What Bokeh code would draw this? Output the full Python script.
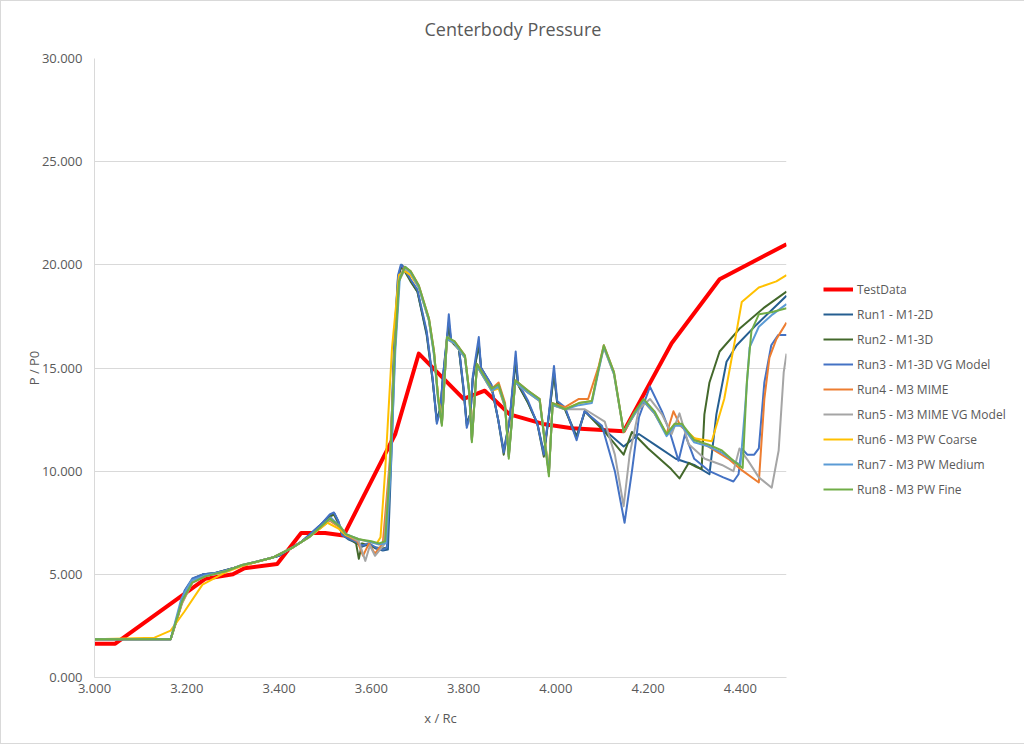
from bokeh.plotting import figure
from bokeh.layouts import row
from bokeh.models import Legend, LegendItem, FixedTicker, NumeralTickFormatter, Range1d
from bokeh.embed import file_html
from bokeh.resources import INLINE

# TestData (measured)
test_x = [3.000, 3.045, 3.240, 3.300, 3.325, 3.396, 3.448, 3.500, 3.540, 3.652,
          3.703, 3.800, 3.846, 3.900, 3.976, 4.035, 4.147, 4.251, 4.355, 4.500]
test_y = [1.64, 1.64, 4.78, 5.00, 5.30, 5.50, 7.00, 7.00, 6.88, 11.8,
          15.7, 13.5, 13.9, 12.75, 12.27, 12.08, 11.93, 16.2, 19.3, 21.0]

# Run1 - M1-2D
run1_x = [3.000, 3.165, 3.180, 3.195, 3.212, 3.235, 3.260, 3.300, 3.350, 3.400,
          3.450, 3.490, 3.510, 3.520, 3.529, 3.538, 3.550, 3.565, 3.580, 3.595,
          3.610, 3.625, 3.636, 3.644, 3.652, 3.660, 3.666, 3.674, 3.686, 3.700,
          3.720, 3.733, 3.742, 3.750, 3.755, 3.764, 3.768, 3.773, 3.790, 3.800,
          3.807, 3.815, 3.820, 3.833, 3.838, 3.860, 3.875, 3.887, 3.900, 3.913,
          3.918, 3.940, 3.960, 3.974, 3.985, 3.996, 4.003, 4.020, 4.045, 4.063,
          4.100, 4.147, 4.180, 4.220, 4.260, 4.300, 4.333, 4.348, 4.370, 4.392,
          4.435, 4.500]
run1_y = [1.85, 1.85, 2.90, 4.10, 4.75, 5.00, 5.05, 5.30, 5.60, 5.90,
          6.60, 7.40, 7.85, 7.95, 7.55, 6.90, 6.70, 6.55, 6.35, 6.45,
          6.25, 6.15, 6.20, 11.0, 16.5, 19.5, 20.0, 19.8, 19.2, 18.7,
          16.6, 14.4, 12.5, 13.1, 14.5, 16.4, 17.0, 16.3, 15.9, 14.0,
          12.3, 12.8, 14.5, 16.1, 15.0, 14.2, 12.5, 11.0, 12.5, 15.3,
          14.2, 13.3, 12.3, 10.9, 12.7, 14.7, 13.3, 13.0, 11.7, 12.9,
          12.1, 11.2, 11.8, 11.2, 10.6, 10.3, 9.85, 12.75, 15.3, 16.1,
          17.1, 18.5]

# Run2 - M1-3D
run2_x = [3.000, 3.165, 3.182, 3.197, 3.214, 3.236, 3.260, 3.300, 3.350, 3.400,
          3.450, 3.490, 3.510, 3.519, 3.528, 3.537, 3.555, 3.567, 3.573, 3.580,
          3.595, 3.610, 3.625, 3.634, 3.642, 3.650, 3.658, 3.664, 3.672, 3.685,
          3.700, 3.720, 3.733, 3.742, 3.750, 3.755, 3.764, 3.768, 3.773, 3.790,
          3.800, 3.807, 3.815, 3.820, 3.833, 3.838, 3.860, 3.875, 3.887, 3.900,
          3.913, 3.918, 3.940, 3.960, 3.974, 3.985, 3.996, 4.003, 4.020, 4.045,
          4.063, 4.106, 4.147, 4.165, 4.200, 4.250, 4.268, 4.288, 4.305, 4.316,
          4.322, 4.333, 4.355, 4.398, 4.450, 4.500]
run2_y = [1.85, 1.85, 3.10, 4.25, 4.80, 5.00, 5.05, 5.30, 5.60, 5.90,
          6.60, 7.35, 7.80, 7.90, 7.50, 6.90, 6.70, 6.50, 5.75, 6.50,
          6.40, 6.30, 6.25, 6.30, 11.0, 16.4, 19.4, 19.9, 19.7, 19.2,
          18.7, 16.7, 14.4, 12.4, 13.0, 14.4, 16.3, 17.2, 16.3, 15.9,
          13.9, 12.2, 12.8, 14.5, 16.2, 15.0, 14.1, 12.5, 10.8, 12.5,
          15.5, 14.2, 13.3, 12.3, 10.7, 12.7, 14.8, 13.3, 13.0, 11.6,
          12.9, 11.9, 10.8, 11.9, 11.1, 10.1, 9.65, 10.4, 10.2, 10.1,
          12.75, 14.3, 15.8, 16.9, 17.9, 18.7]

# Run3 - M1-3D VG Model
run3_x = [3.000, 3.165, 3.180, 3.195, 3.212, 3.235, 3.260, 3.300, 3.350, 3.400,
          3.450, 3.490, 3.510, 3.519, 3.528, 3.537, 3.550, 3.565, 3.580, 3.595,
          3.610, 3.625, 3.634, 3.642, 3.650, 3.658, 3.664, 3.672, 3.685, 3.700,
          3.720, 3.733, 3.742, 3.750, 3.755, 3.764, 3.768, 3.773, 3.790, 3.800,
          3.807, 3.815, 3.820, 3.833, 3.838, 3.860, 3.875, 3.887, 3.900, 3.913,
          3.918, 3.940, 3.960, 3.974, 3.985, 3.996, 4.003, 4.020, 4.045, 4.062,
          4.100, 4.128, 4.149, 4.165, 4.180, 4.204, 4.230, 4.247, 4.266, 4.280,
          4.300, 4.333, 4.363, 4.385, 4.396, 4.403, 4.415, 4.430, 4.440, 4.452,
          4.467, 4.482, 4.500]
run3_y = [1.85, 1.85, 3.00, 4.20, 4.80, 5.00, 5.05, 5.30, 5.60, 5.90,
          6.60, 7.40, 7.90, 8.00, 7.60, 6.90, 6.75, 6.60, 6.40, 6.50,
          6.30, 6.20, 6.30, 11.0, 16.5, 19.5, 20.0, 19.8, 19.3, 18.8,
          16.8, 14.5, 12.3, 13.0, 14.5, 16.5, 17.6, 16.4, 16.0, 14.0,
          12.1, 12.8, 14.6, 16.5, 15.0, 14.2, 12.5, 10.9, 12.5, 15.8,
          14.3, 13.4, 12.3, 10.8, 12.8, 15.1, 13.4, 13.1, 11.5, 12.9,
          12.2, 10.0, 7.5, 10.0, 12.6, 14.1, 12.9, 11.9, 10.5, 11.8,
          10.6, 10.0, 9.7, 9.5, 9.85, 11.1, 10.8, 10.8, 11.1, 14.3,
          16.1, 16.6, 16.6]

# Run4 - M3 MIME
run4_x = [3.000, 3.165, 3.190, 3.212, 3.240, 3.284, 3.320, 3.385, 3.430, 3.465,
          3.510, 3.533, 3.545, 3.570, 3.582, 3.595, 3.608, 3.625, 3.640, 3.650,
          3.660, 3.672, 3.685, 3.703, 3.725, 3.736, 3.745, 3.753, 3.764, 3.780,
          3.803, 3.812, 3.818, 3.829, 3.845, 3.861, 3.876, 3.890, 3.898, 3.912,
          3.940, 3.965, 3.978, 3.985, 3.993, 4.020, 4.050, 4.070, 4.093, 4.104,
          4.126, 4.147, 4.169, 4.190, 4.214, 4.240, 4.255, 4.270, 4.300, 4.330,
          4.374, 4.400, 4.440, 4.452, 4.463, 4.478, 4.500]
run4_y = [1.85, 1.85, 3.60, 4.60, 4.90, 5.15, 5.45, 5.80, 6.30, 6.80,
          7.60, 7.25, 6.90, 6.60, 5.90, 6.50, 6.00, 6.50, 10.5, 15.5,
          19.3, 19.9, 19.7, 19.0, 17.4, 15.8, 13.5, 12.3, 16.4, 16.3,
          15.6, 13.9, 11.5, 15.2, 14.6, 14.0, 14.3, 13.3, 10.7, 14.4,
          13.9, 13.5, 11.1, 9.9, 13.3, 13.1, 13.5, 13.5, 15.1, 16.1,
          14.8, 11.9, 12.8, 13.4, 12.8, 11.8, 12.9, 12.2, 11.6, 11.2,
          10.6, 10.1, 9.45, 13.5, 15.5, 16.4, 17.2]

# Run5 - M3 MIME VG Model
run5_x = [3.000, 3.165, 3.190, 3.212, 3.240, 3.284, 3.320, 3.385, 3.430, 3.465,
          3.510, 3.533, 3.545, 3.573, 3.587, 3.597, 3.608, 3.628, 3.640, 3.650,
          3.660, 3.673, 3.685, 3.703, 3.725, 3.736, 3.745, 3.753, 3.764, 3.780,
          3.803, 3.812, 3.818, 3.829, 3.845, 3.861, 3.876, 3.890, 3.898, 3.912,
          3.940, 3.965, 3.978, 3.985, 3.993, 4.020, 4.063, 4.106, 4.128, 4.147,
          4.160, 4.180, 4.204, 4.230, 4.251, 4.268, 4.288, 4.323, 4.360, 4.385,
          4.398, 4.417, 4.440, 4.468, 4.483, 4.494, 4.500]
run5_y = [1.85, 1.85, 3.65, 4.60, 4.90, 5.15, 5.45, 5.80, 6.30, 6.80,
          7.65, 7.30, 6.95, 6.60, 5.65, 6.40, 5.90, 6.45, 10.2, 15.4,
          19.2, 19.8, 19.6, 18.9, 17.3, 15.7, 13.6, 12.3, 16.4, 16.2,
          15.5, 13.9, 11.5, 15.1, 14.5, 13.9, 14.1, 13.1, 10.8, 14.3,
          13.8, 13.4, 11.1, 9.9, 13.2, 13.0, 13.0, 12.4, 10.8, 8.3,
          10.8, 13.0, 13.5, 12.75, 11.8, 12.8, 11.3, 10.6, 10.3, 10.0,
          11.1, 10.5, 9.7, 9.2, 11.0, 14.8, 15.7]

# Run6 - M3 PW Coarse
run6_x = [3.000, 3.130, 3.165, 3.195, 3.234, 3.284, 3.320, 3.385, 3.430, 3.465,
          3.505, 3.530, 3.545, 3.573, 3.600, 3.612, 3.620, 3.630, 3.645, 3.660,
          3.672, 3.685, 3.703, 3.725, 3.736, 3.745, 3.753, 3.764, 3.780, 3.803,
          3.812, 3.818, 3.829, 3.845, 3.861, 3.876, 3.890, 3.898, 3.912, 3.940,
          3.965, 3.978, 3.985, 3.993, 4.020, 4.050, 4.078, 4.093, 4.104, 4.126,
          4.147, 4.169, 4.190, 4.214, 4.240, 4.258, 4.273, 4.300, 4.338, 4.365,
          4.392, 4.403, 4.440, 4.478, 4.500]
run6_y = [1.85, 1.93, 2.27, 3.20, 4.50, 5.10, 5.40, 5.80, 6.30, 6.80,
          7.50, 7.20, 6.90, 6.70, 6.55, 6.50, 6.80, 10.0, 16.0, 19.5,
          19.7, 19.5, 18.9, 17.3, 15.7, 13.6, 12.4, 16.4, 16.2, 15.5,
          13.9, 11.6, 15.1, 14.5, 13.9, 14.0, 13.1, 10.8, 14.3, 13.8,
          13.4, 11.2, 10.0, 13.2, 13.0, 13.3, 13.4, 15.0, 16.0, 14.7,
          11.9, 12.7, 13.4, 12.8, 11.8, 12.3, 12.2, 11.6, 11.45, 13.5,
          16.8, 18.2, 18.9, 19.2, 19.5]

# Run7 - M3 PW Medium
run7_x = [3.000, 3.165, 3.188, 3.210, 3.240, 3.284, 3.320, 3.385, 3.430, 3.465,
          3.512, 3.533, 3.545, 3.573, 3.600, 3.617, 3.632, 3.642, 3.652, 3.662,
          3.674, 3.686, 3.703, 3.725, 3.736, 3.745, 3.753, 3.764, 3.780, 3.803,
          3.812, 3.818, 3.829, 3.845, 3.861, 3.876, 3.890, 3.898, 3.912, 3.940,
          3.965, 3.978, 3.985, 3.993, 4.020, 4.050, 4.078, 4.093, 4.104, 4.126,
          4.147, 4.169, 4.190, 4.214, 4.240, 4.258, 4.273, 4.300, 4.330, 4.360,
          4.385, 4.400, 4.410, 4.420, 4.440, 4.470, 4.500]
run7_y = [1.85, 1.85, 3.80, 4.70, 4.95, 5.15, 5.45, 5.80, 6.30, 6.80,
          7.75, 7.30, 6.95, 6.70, 6.55, 6.45, 6.50, 10.0, 15.8, 19.4,
          19.9, 19.6, 18.9, 17.3, 15.6, 13.4, 12.3, 16.4, 16.2, 15.5,
          13.8, 11.5, 15.1, 14.5, 13.9, 14.1, 13.1, 10.7, 14.3, 13.8,
          13.4, 11.1, 9.9, 13.2, 13.0, 13.2, 13.3, 14.9, 16.0, 14.7,
          11.9, 12.7, 13.4, 12.8, 11.7, 12.2, 12.2, 11.4, 11.2, 10.9,
          10.5, 10.3, 13.0, 16.0, 17.0, 17.6, 18.1]

# Run8 - M3 PW Fine
run8_x = [3.000, 3.165, 3.190, 3.212, 3.240, 3.284, 3.320, 3.385, 3.430, 3.465,
          3.510, 3.533, 3.545, 3.573, 3.600, 3.617, 3.630, 3.640, 3.650, 3.660,
          3.673, 3.685, 3.703, 3.725, 3.736, 3.745, 3.753, 3.764, 3.780, 3.803,
          3.812, 3.818, 3.829, 3.845, 3.861, 3.876, 3.890, 3.898, 3.912, 3.940,
          3.965, 3.978, 3.985, 3.993, 4.020, 4.050, 4.078, 4.093, 4.104, 4.126,
          4.147, 4.169, 4.190, 4.214, 4.240, 4.258, 4.273, 4.300, 4.330, 4.360,
          4.385, 4.405, 4.414, 4.424, 4.440, 4.467, 4.500]
run8_y = [1.85, 1.85, 3.70, 4.60, 4.90, 5.15, 5.45, 5.80, 6.30, 6.80,
          7.70, 7.30, 6.95, 6.70, 6.60, 6.50, 6.60, 10.0, 15.5, 19.2,
          19.9, 19.7, 19.0, 17.4, 15.8, 13.5, 12.2, 16.5, 16.3, 15.6,
          13.9, 11.4, 15.2, 14.6, 14.0, 14.2, 13.2, 10.6, 14.4, 13.9,
          13.5, 11.0, 9.75, 13.3, 13.0, 13.3, 13.4, 15.0, 16.1, 14.8,
          11.9, 12.8, 13.5, 12.9, 11.8, 12.3, 12.3, 11.5, 11.3, 11.0,
          10.5, 10.15, 14.3, 16.8, 17.6, 17.7, 17.9]

series = [
    ("TestData", test_x, test_y, "#FF0000", 4),
    ("Run1 - M1-2D", run1_x, run1_y, "#255E91", 2),
    ("Run2 - M1-3D", run2_x, run2_y, "#43682B", 2),
    ("Run3 - M1-3D VG Model", run3_x, run3_y, "#4472C4", 2),
    ("Run4 - M3 MIME", run4_x, run4_y, "#ED7D31", 2),
    ("Run5 - M3 MIME VG Model", run5_x, run5_y, "#A5A5A5", 2),
    ("Run6 - M3 PW Coarse", run6_x, run6_y, "#FFC000", 2),
    ("Run7 - M3 PW Medium", run7_x, run7_y, "#5B9BD5", 2),
    ("Run8 - M3 PW Fine", run8_x, run8_y, "#70AD47", 2),
]

FONT = "Open Sans"
GREY = "#595959"

p = figure(width=790, height=742, output_backend="svg", toolbar_location=None,
           x_range=Range1d(3.0, 4.5), y_range=Range1d(0, 30),
           min_border_left=93, min_border_right=5, min_border_top=55,
           min_border_bottom=66, title="Centerbody Pressure")

p.title.align = "left"
p.title.vertical_align = "top"
p.title.offset = 330
p.title.standoff = 31
p.title.text_font = FONT
p.title.text_font_size = "18px"
p.title.text_font_style = "normal"
p.title.text_color = GREY

p.outline_line_color = None
p.xgrid.grid_line_color = None
p.ygrid.grid_line_color = "#d9d9d9"
p.ygrid.grid_line_width = 1

p.xaxis.ticker = FixedTicker(ticks=[3.0, 3.2, 3.4, 3.6, 3.8, 4.0, 4.2, 4.4])
p.yaxis.ticker = FixedTicker(ticks=[0, 5, 10, 15, 20, 25, 30])
for ax in (p.xaxis, p.yaxis):
    ax.formatter = NumeralTickFormatter(format="0.000")
    ax.major_tick_line_color = None
    ax.minor_tick_line_color = None
    ax.major_tick_out = 0
    ax.major_tick_in = 0
    ax.axis_line_color = "#d9d9d9"
    ax.axis_line_width = 1
    ax.major_label_text_font = FONT
    ax.major_label_text_font_size = "13px"
    ax.major_label_text_color = GREY
    ax.axis_label_text_font = FONT
    ax.axis_label_text_font_size = "13px"
    ax.axis_label_text_font_style = "normal"
    ax.axis_label_text_color = GREY

p.xaxis.axis_label = "x / Rc"
p.yaxis.axis_label = "P / P0"
p.xaxis.major_label_standoff = 6
p.yaxis.major_label_standoff = 12
p.xaxis.axis_label_standoff = 13
p.yaxis.axis_label_standoff = -4

for name, xs, ys, color, lw in series:
    p.line(xs, ys, line_color=color, line_width=lw, line_join="round")

# legend panel on the right: same series, drawn outside its visible range
lg = figure(width=233, height=742, output_backend="svg", toolbar_location=None,
            x_range=Range1d(0, 1), y_range=Range1d(0, 1), min_border=0,
            x_axis_location=None, y_axis_location=None)
lg.outline_line_color = None
lg.grid.visible = False

items = []
for name, xs, ys, color, lw in series:
    r = lg.line(xs, ys, line_color=color, line_width=lw)
    items.append(LegendItem(label=name, renderers=[r]))

legend = Legend(items=items, location=(32, 178))
legend.padding = 0
legend.margin = 0
legend.spacing = 5
legend.glyph_width = 30
legend.glyph_height = 20
legend.label_height = 20
legend.label_standoff = 4
legend.label_text_font = FONT
legend.label_text_font_size = "12px"
legend.label_text_color = GREY
legend.border_line_color = None
legend.background_fill_alpha = 0
lg.add_layout(legend, "center")

layout = row(p, lg)
layout.styles = {"border": "1px solid #d9d9d9"}

open("out.html", "w").write(file_html(layout, INLINE))
